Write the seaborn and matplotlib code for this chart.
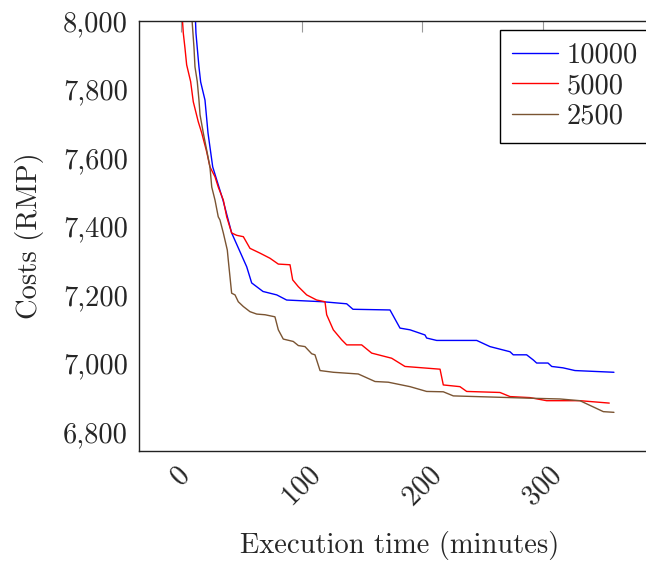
import pandas as pd
import seaborn as sns
import matplotlib.pyplot as plt
from matplotlib.ticker import FuncFormatter

# runs (minutes, RMP cost)
t_10000 = [10.5, 12.4, 13.5, 14.9, 16.3, 19.9, 22.4, 26.3, 34.8, 42.0, 54.5, 58.6, 68.0,
           79.4, 87.6, 117.7, 137.4, 142.6, 173.3, 181.6, 189.9, 202.3, 203.7, 212.0,
           245.2, 256.2, 272.8, 275.5, 286.6, 292.1, 294.9, 304.3, 307.4, 316.7, 326.7, 359.0]
c_10000 = [8150, 7965, 7921, 7866, 7822, 7769, 7673, 7574, 7477, 7381, 7282, 7235, 7210,
           7200, 7185, 7180, 7174, 7158, 7156, 7103, 7098, 7083, 7074, 7067,
           7067, 7049, 7034, 7025, 7025, 7010, 7001, 7001, 6991, 6987, 6979, 6974]

t_5000 = [0.5, 1.9, 3.3, 4.7, 8.0, 10.2, 14.3, 17.2, 21.3, 24.0, 28.2, 30.9, 35.1, 37.9,
          42.0, 46.2, 51.7, 57.2, 65.5, 73.8, 80.7, 90.4, 92.6, 97.3, 104.2, 112.5, 119.4,
          120.8, 126.3, 133.2, 137.4, 149.8, 158.1, 174.7, 185.7, 214.8, 217.5, 231.3,
          236.9, 264.5, 272.8, 289.4, 303.2, 330.8, 355.1]
c_5000 = [8040, 7965, 7921, 7872, 7823, 7764, 7706, 7673, 7618, 7574, 7545, 7515, 7477, 7428,
          7381, 7374, 7370, 7336, 7322, 7307, 7290, 7288, 7244, 7224, 7200, 7185, 7180,
          7142, 7098, 7069, 7054, 7054, 7030, 7015, 6991, 6983, 6937, 6932,
          6918, 6915, 6903, 6900, 6891, 6891, 6884]

t_2500 = [8.0, 10.8, 11.6, 13.5, 14.9, 15.8, 18.5, 21.3, 24.0, 25.5, 28.2, 30.9, 32.3, 35.1,
          38.4, 39.2, 42.0, 44.8, 47.5, 51.7, 57.2, 62.8, 69.7, 77.9, 80.7, 84.8, 93.1,
          97.3, 102.8, 108.4, 111.1, 115.3, 126.3, 147.0, 160.9, 171.9, 189.9, 203.7,
          217.5, 225.8, 292.1, 314.3, 330.8, 350.2, 359.0]
c_2500 = [8060, 7921, 7866, 7823, 7769, 7726, 7673, 7623, 7574, 7515, 7477, 7428, 7419, 7381,
          7331, 7302, 7205, 7200, 7180, 7166, 7151, 7144, 7142, 7136, 7098, 7071, 7064,
          7052, 7049, 7028, 7025, 6979, 6974, 6969, 6947, 6945, 6932, 6918,
          6917, 6905, 6898, 6896, 6891, 6859, 6857]

labels = ['10000', '5000', '2500']
colors = ['#0000ff', '#ff0000', '#7a5432']

df = pd.concat([
    pd.DataFrame({'time': t_10000, 'cost': c_10000, 'run': '10000'}),
    pd.DataFrame({'time': t_5000, 'cost': c_5000, 'run': '5000'}),
    pd.DataFrame({'time': t_2500, 'cost': c_2500, 'run': '2500'}),
])

sns.set_style('white')
plt.rcParams['font.family'] = ['cmr10', 'DejaVu Serif']
plt.rcParams['axes.formatter.use_mathtext'] = True
plt.rcParams['font.size'] = 20.5

fig = plt.figure(figsize=(6.46, 5.63), dpi=100)
ax = fig.add_axes([0.2152, 0.1989, 0.808, 0.7638])

sns.lineplot(data=df, x='time', y='cost', hue='run', hue_order=labels,
             palette=colors, estimator=None, sort=False, linewidth=1.0, ax=ax)

ax.set_xlim(-34.8, 398)
ax.set_ylim(6744, 8000)
ax.set_xticks([0, 100, 200, 300])
ax.set_yticks([6800, 7000, 7200, 7400, 7600, 7800, 8000])
ax.yaxis.set_major_formatter(FuncFormatter(lambda v, p: f'{v:,.0f}'))

ax.tick_params(direction='in', length=8, width=0.8, color='#999999',
               top=True, right=True, labelsize=20.5)
ax.tick_params(axis='x', pad=8)
ax.tick_params(axis='y', pad=8)
plt.setp(ax.get_xticklabels(), rotation=45)

for s in ax.spines.values():
    s.set_color('#222222')
    s.set_linewidth(1.0)

ax.set_xlabel('Execution time (minutes)', fontsize=20.5, labelpad=14)
ax.set_ylabel('Costs (RMP)', fontsize=20.5, labelpad=14)

leg = ax.legend(loc='upper right', bbox_to_anchor=(0.98, 0.98), borderaxespad=0,
                fancybox=False, framealpha=1, edgecolor='black', fontsize=20.5,
                handlelength=1.6, handletextpad=0.3, labelspacing=0.15, borderpad=0.45)
leg.get_frame().set_linewidth(1.0)

plt.savefig('out.png', dpi=100)
